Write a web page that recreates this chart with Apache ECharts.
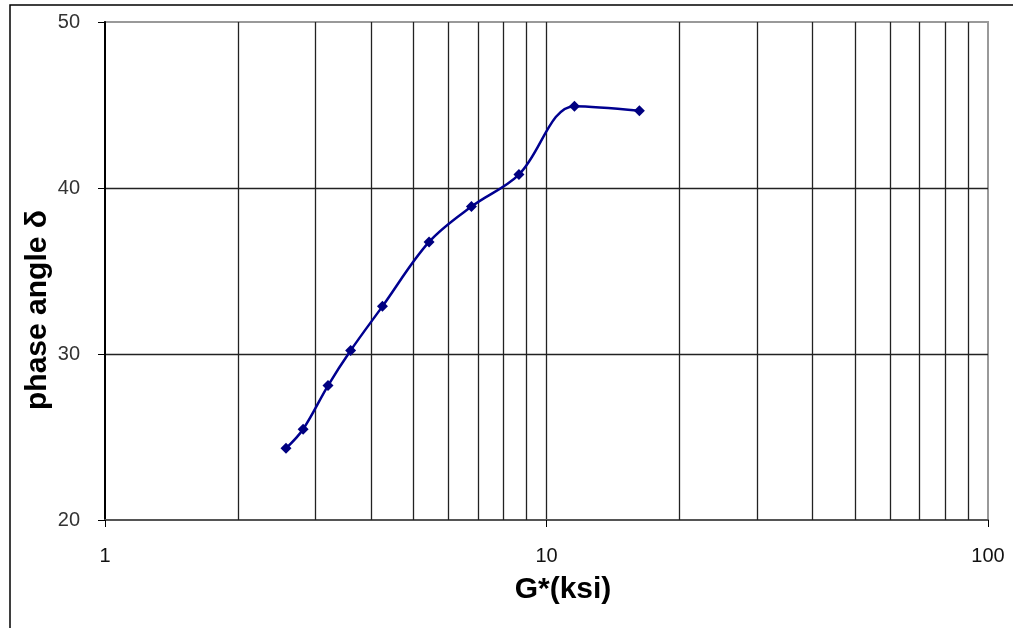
<!DOCTYPE html>
<html>
<head>
<meta charset="utf-8">
<script src="https://cdn.jsdelivr.net/npm/echarts@6/dist/echarts.min.js"></script>
<style>
html,body{margin:0;padding:0;background:#fff;}
#c{width:1013px;height:628px;}
</style>
</head>
<body>
<div id="c"></div>
<script>
// Data
var gStar = [2.57, 2.81, 3.20, 3.60, 4.25, 5.42, 6.76, 8.66, 11.57, 16.23];
var phaseAngle = [24.32, 25.47, 28.10, 30.21, 32.87, 36.75, 38.88, 40.81, 44.93, 44.65];
var minorGridValues = [2, 3, 4, 5, 6, 7, 8, 9, 20, 30, 40, 50, 60, 70, 80, 90];
var xTitle = 'G*(ksi)';
var yTitle = 'phase angle δ';

var points = gStar.map(function (g, i) { return [g, phaseAngle[i]]; });
var minorLines = minorGridValues.map(function (v) { return { xAxis: v }; });

var chart = echarts.init(document.getElementById('c'), null, { renderer: 'canvas' });
var font = 'Liberation Sans, Arial, sans-serif';
chart.setOption({
  animation: false,
  backgroundColor: '#fff',
  grid: {
    left: 105, right: 25, top: 22, bottom: 108,
    show: true, borderColor: '#999', borderWidth: 2, backgroundColor: '#fff'
  },
  xAxis: {
    type: 'log', logBase: 10, min: 1, max: 100,
    axisLine: { show: true, lineStyle: { color: '#555', width: 2 } },
    axisTick: { show: true, length: 7, lineStyle: { color: '#000', width: 1 } },
    axisLabel: { fontFamily: font, fontSize: 20, color: '#111', margin: 26 },
    splitLine: { show: true, showMinLine: false, showMaxLine: false, lineStyle: { color: '#222', width: 1.3 } },
    minorTick: { show: false },
    minorSplitLine: { show: false }
  },
  yAxis: {
    type: 'value', min: 20, max: 50, interval: 10,
    axisLine: { show: true, lineStyle: { color: '#000', width: 2 } },
    axisTick: { show: true, length: 7, lineStyle: { color: '#000', width: 1 } },
    axisLabel: { fontFamily: font, fontSize: 20, color: '#333', margin: 25 },
    splitLine: { show: true, showMinLine: false, showMaxLine: false, lineStyle: { color: '#222', width: 1.3 } }
  },
  graphic: [
    { type: 'rect', z: -10, silent: true, shape: { x: 10, y: 5, width: 1100, height: 700 }, style: { fill: 'none', stroke: '#000', lineWidth: 1.5 } },
    { type: 'text', x: 563, y: 590, silent: true,
      style: { text: xTitle, font: 'bold 30px ' + font, fill: '#000', align: 'center', verticalAlign: 'middle' } },
    { type: 'text', x: 38, y: 310, rotation: Math.PI / 2, silent: true,
      style: { text: yTitle, font: 'bold 30px ' + font, fill: '#000', align: 'center', verticalAlign: 'middle' } }
  ],
  series: [{
    type: 'line',
    data: points,
    smooth: 0.35,
    symbol: 'diamond',
    symbolSize: 11,
    itemStyle: { color: '#000080' },
    lineStyle: { color: '#000090', width: 2.5 },
    markLine: {
      silent: true,
      symbol: ['none', 'none'],
      label: { show: false },
      lineStyle: { color: '#222', width: 1.3, type: 'solid' },
      emphasis: { disabled: true },
      data: minorLines,
      z: 1
    },
    z: 5
  }]
});
</script>
</body>
</html>
